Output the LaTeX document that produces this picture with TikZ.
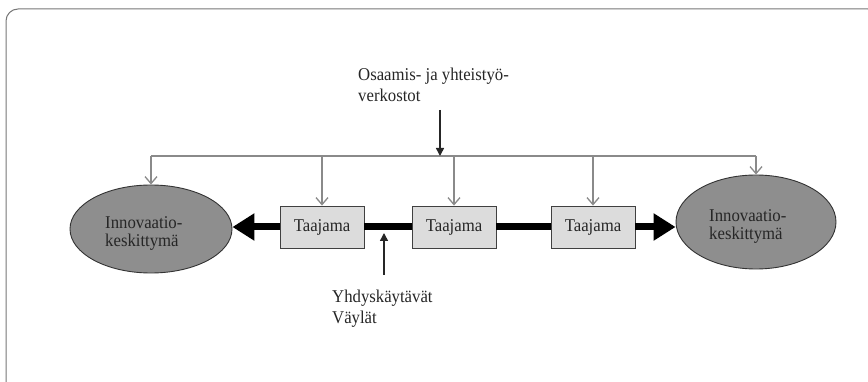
\documentclass[tikz,border=0pt]{standalone}
\usepackage{fontspec}
\setmainfont{Liberation Serif}[FakeStretch=0.93]
\usetikzlibrary{arrows.meta,shapes.geometric}
\definecolor{framegray}{HTML}{777777}
\definecolor{linegray}{HTML}{8A8A8A}
\definecolor{hubfill}{HTML}{8E8E8E}
\definecolor{boxfill}{HTML}{DCDCDC}
\definecolor{inkgray}{HTML}{262626}
\tikzset{
  txt/.style={font=\fontsize{18}{21}\selectfont, text=inkgray, align=left, inner sep=0pt},
  hub/.style={ellipse, draw=black!80, line width=0.9pt, fill=hubfill, inner sep=0pt},
  hubtxt/.style={font=\fontsize{18}{18}\selectfont, text=inkgray, align=left, inner sep=0pt},
  town/.style={rectangle, draw=black!75, line width=0.9pt, fill=boxfill,
               minimum width=84pt, minimum height=42pt, inner sep=0pt,
               font=\fontsize{18}{18}\selectfont, text=inkgray},
  bus/.style={draw=linegray, line width=1.3pt},
  feed/.style={draw=linegray, line width=1.3pt, -{Straight Barb[length=7pt,width=12pt,line width=1.3pt]}},
  road/.style={draw=black, line width=7pt},
  roadend/.style={road, -{Triangle[length=22pt,width=26pt]}},
  pointer/.style={draw=black!85, line width=1.5pt, -{Triangle[length=8pt,width=8pt]}}
}
\begin{document}
\begin{tikzpicture}[x=1pt,y=-1pt]
\useasboundingbox (0,0) rectangle (868,382);
% outer frame, running past the lower and right edges
\draw[framegray, line width=1pt, rounded corners=12pt] (6,9) rectangle (880,400);

% innovation hubs (the base anchor sits on the last text line)
\node[hub, minimum width=162pt, minimum height=88pt] (lel) at (151,229) {};
\node[hub, minimum width=160pt, minimum height=94pt] (rel) at (756,222) {};
\node[hubtxt, anchor=base west] (lelt) at (105,247) {Innovaatio-\\keskittymä};
\node[hubtxt, anchor=base west] (relt) at (709,240) {Innovaatio-\\keskittymä};

% towns along the corridor
\node[town] (t1) at (322,227) {Taajama};
\node[town] (t2) at (454,227) {Taajama};
\node[town] (t3) at (593,227) {Taajama};

% corridor
\draw[roadend] (t1.west) -- (lel.east |- t1.west);
\draw[road] (t1.east) -- (t2.west);
\draw[road] (t2.east) -- (t3.west);
\draw[roadend] (t3.east) -- (rel.west |- t3.east);

% network bus
\coordinate (busL) at (151,156);
\coordinate (busR) at (756,156);
\draw[bus] (busL) -- (busR);
\draw[feed] (busL) -- (lel.north);
\draw[feed] (busR) -- (rel.north);
\draw[feed] (t1.north |- busL) -- (t1.north);
\draw[feed] (t2.north |- busL) -- (t2.north);
\draw[feed] (t3.north |- busL) -- (t3.north);

% labels
\node[txt, anchor=base west] (net) at (358,101.7) {Osaamis- ja yhteistyö-\\verkostot};
\node[txt, anchor=base west] (way) at (332,323.3) {Yhdyskäytävät\\Väylät};

\coordinate (netstart) at (440,110);
\draw[pointer] (netstart) -- (netstart |- busL);
\coordinate (waystart) at (384,275);
\coordinate (wayend) at (384,233);
\draw[pointer] (waystart) -- (wayend);
\end{tikzpicture}
\end{document}
